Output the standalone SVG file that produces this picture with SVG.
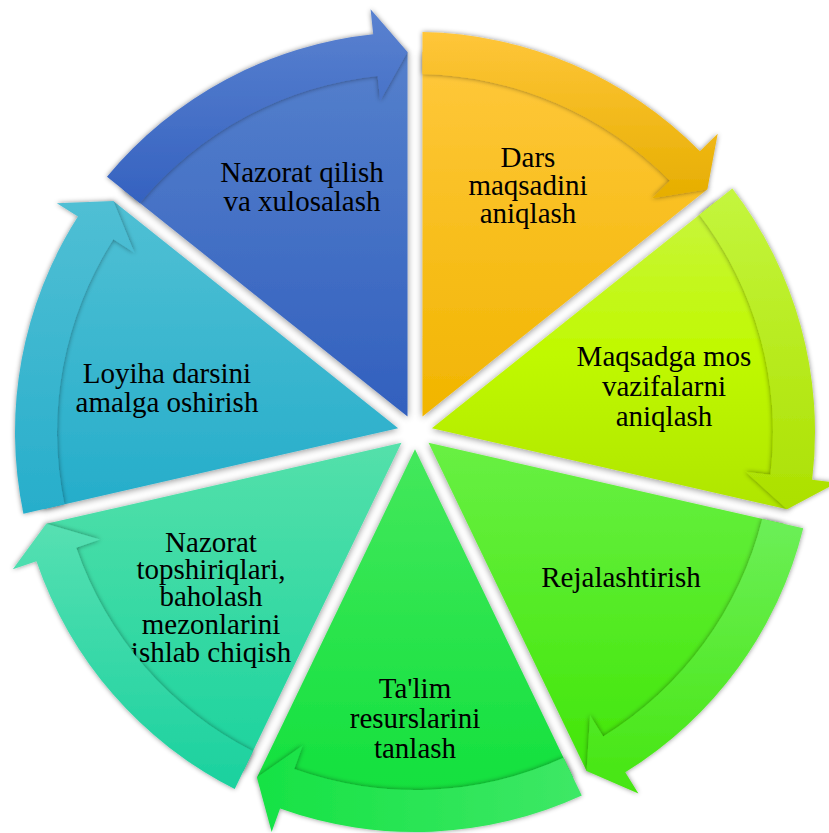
<svg xmlns="http://www.w3.org/2000/svg" width="829" height="833" viewBox="0 0 829 833">
<defs>
<style>
text{font-family:'Liberation Serif','Times New Roman',serif;font-size:29px;fill:#000;text-anchor:middle}
.w{filter:url(#sh)}
.a{filter:url(#bsh)}
</style>
<filter id="sh" x="-10%" y="-10%" width="120%" height="120%">
<feDropShadow dx="0" dy="1" stdDeviation="3.5" flood-color="#000" flood-opacity="0.45"/>
</filter>
<filter id="bsh" x="-10%" y="-10%" width="120%" height="120%">
<feDropShadow dx="0" dy="0" stdDeviation="2.5" flood-color="#000" flood-opacity="0.45"/>
</filter>
<linearGradient id="g0w" x1="0" y1="0" x2="0" y2="1"><stop offset="0" stop-color="#ffc83c"/><stop offset="1" stop-color="#f1b500"/></linearGradient>
<linearGradient id="g0a" x1="0" y1="0" x2="0" y2="1"><stop offset="0" stop-color="#ffc63a"/><stop offset="1" stop-color="#e6ae00"/></linearGradient>
<linearGradient id="g1w" x1="0" y1="0" x2="0" y2="1"><stop offset="0" stop-color="#c8f53e"/><stop offset="0.5" stop-color="#c0f900"/><stop offset="1" stop-color="#afe500"/></linearGradient>
<linearGradient id="g1a" x1="0" y1="0" x2="0" y2="1"><stop offset="0" stop-color="#c4f63e"/><stop offset="1" stop-color="#ace000"/></linearGradient>
<linearGradient id="g2w" x1="0" y1="0" x2="0" y2="1"><stop offset="0" stop-color="#68f044"/><stop offset="1" stop-color="#42e608"/></linearGradient>
<linearGradient id="g2a" x1="0" y1="0" x2="0" y2="1"><stop offset="0" stop-color="#6cef58"/><stop offset="1" stop-color="#46e610"/></linearGradient>
<linearGradient id="g3w" x1="0" y1="0" x2="0" y2="1"><stop offset="0" stop-color="#44e85c"/><stop offset="1" stop-color="#10e03c"/></linearGradient>
<linearGradient id="g3a" x1="1" y1="0" x2="0" y2="0"><stop offset="0" stop-color="#3ee866"/><stop offset="1" stop-color="#16e244"/></linearGradient>
<linearGradient id="g4w" x1="0" y1="0" x2="0" y2="1"><stop offset="0" stop-color="#54e0aa"/><stop offset="1" stop-color="#1cd39e"/></linearGradient>
<linearGradient id="g4a" x1="0" y1="0" x2="0" y2="1"><stop offset="0" stop-color="#56e0b2"/><stop offset="1" stop-color="#1ad19e"/></linearGradient>
<linearGradient id="g5w" x1="0" y1="0" x2="0" y2="1"><stop offset="0" stop-color="#50c0d4"/><stop offset="1" stop-color="#25adca"/></linearGradient>
<linearGradient id="g5a" x1="0" y1="0" x2="0" y2="1"><stop offset="0" stop-color="#50bfd4"/><stop offset="1" stop-color="#27aecb"/></linearGradient>
<linearGradient id="g6w" x1="0" y1="0" x2="0" y2="1"><stop offset="0" stop-color="#5580cc"/><stop offset="1" stop-color="#3260be"/></linearGradient>
<linearGradient id="g6a" x1="0" y1="0" x2="0" y2="1"><stop offset="0" stop-color="#5a82d0"/><stop offset="1" stop-color="#3562c0"/></linearGradient>
</defs>
<rect width="829" height="833" fill="#fff"/>

<g id="node-dars">
<path class="w" fill="url(#g0w)" d="M422.50,416.42 L422.50,52.07 A380,380 0 0 1 707.36,189.26 Z"/>
<text font-family="Liberation Serif, serif" x="528" y="167">Dars</text>
<text font-family="Liberation Serif, serif" x="528" y="195">maqsadini</text>
<text font-family="Liberation Serif, serif" x="528" y="223">aniqlash</text>
</g>
<g id="node-maqsadga">
<path class="w" fill="url(#g1w)" d="M431.86,428.15 L716.70,200.97 A380,380 0 0 1 787.07,509.24 Z"/>
<text font-family="Liberation Serif, serif" x="664" y="366">Maqsadga mos</text>
<text font-family="Liberation Serif, serif" x="664" y="396">vazifalarni</text>
<text font-family="Liberation Serif, serif" x="664" y="426">aniqlash</text>
</g>
<g id="node-rejalashtirish">
<path class="w" fill="url(#g2w)" d="M428.52,442.78 L783.73,523.85 A380,380 0 0 1 586.60,771.04 Z"/>
<text font-family="Liberation Serif, serif" x="621" y="587">Rejalashtirish</text>
</g>
<g id="node-talim">
<path class="w" fill="url(#g3w)" d="M415,449.29 L573.08,777.56 A380,380 0 0 1 256.92,777.56 Z"/>
<text font-family="Liberation Serif, serif" x="415" y="698">Ta'lim</text>
<text font-family="Liberation Serif, serif" x="415" y="728">resurslarini</text>
<text font-family="Liberation Serif, serif" x="415" y="758">tanlash</text>
</g>
<g id="node-nazorat-topshiriqlari">
<path class="w" fill="url(#g4w)" d="M401.48,442.78 L243.40,771.04 A380,380 0 0 1 46.27,523.86 Z"/>
<text font-family="Liberation Serif, serif" x="211" y="552">Nazorat</text>
<text font-family="Liberation Serif, serif" x="211" y="579">topshiriqlari,</text>
<text font-family="Liberation Serif, serif" x="211" y="606">baholash</text>
<text font-family="Liberation Serif, serif" x="211" y="634">mezonlarini</text>
<text font-family="Liberation Serif, serif" x="211" y="662">ishlab chiqish</text>
</g>
<g id="node-loyiha">
<path class="w" fill="url(#g5w)" d="M398.14,428.15 L42.93,509.23 A380,380 0 0 1 113.30,200.97 Z"/>
<text font-family="Liberation Serif, serif" x="167" y="383">Loyiha darsini</text>
<text font-family="Liberation Serif, serif" x="167" y="412">amalga oshirish</text>
</g>
<g id="node-nazorat-qilish">
<path class="w" fill="url(#g6w)" d="M407.50,416.42 L122.64,189.26 A380,380 0 0 1 407.50,52.07 Z"/>
<text font-family="Liberation Serif, serif" x="302" y="182">Nazorat qilish</text>
<text font-family="Liberation Serif, serif" x="302" y="211">va xulosalash</text>
</g>

<g id="connectors">
<path class="a" fill="url(#g0a)" d="M422.50,32.07 A400,400 0 0 1 699.89,151.22 L717.69,133.67 L707.36,189.26 L652.17,198.25 L669.97,180.70 A358,358 0 0 0 422.50,74.08 Z"/>
<path class="a" fill="url(#g1a)" d="M732.34,188.50 A400,400 0 0 1 812.14,479.76 L836.96,482.74 L787.07,509.24 L745.62,471.76 L770.44,474.74 A358,358 0 0 0 699.50,214.69 Z"/>
<path class="a" fill="url(#g2a)" d="M803.24,528.30 A400,400 0 0 1 625.26,772.28 L638.40,793.54 L586.60,771.04 L590.04,715.28 L603.18,736.55 A358,358 0 0 0 762.28,518.95 Z"/>
<path class="a" fill="url(#g3a)" d="M581.76,795.58 A400,400 0 0 1 280.08,808.56 L271.65,832.10 L256.92,777.56 L302.68,745.49 L294.25,769.02 A358,358 0 0 0 563.53,757.73 Z"/>
<path class="a" fill="url(#g4a)" d="M234.72,789.06 A400,400 0 0 1 36.46,561.27 L12.81,569.35 L46.27,523.86 L99.87,539.62 L76.21,547.70 A358,358 0 0 0 252.94,751.22 Z"/>
<path class="a" fill="url(#g5a)" d="M23.43,513.68 A400,400 0 0 1 77.94,216.62 L56.87,203.15 L113.30,200.97 L134.39,252.69 L113.33,239.23 A358,358 0 0 0 64.39,504.33 Z"/>
<path class="a" fill="url(#g6a)" d="M107.00,176.78 A400,400 0 0 1 373.19,34.19 L370.58,9.33 L407.50,52.07 L380.19,100.82 L377.58,75.96 A358,358 0 0 0 139.84,202.98 Z"/>
</g>
</svg>
